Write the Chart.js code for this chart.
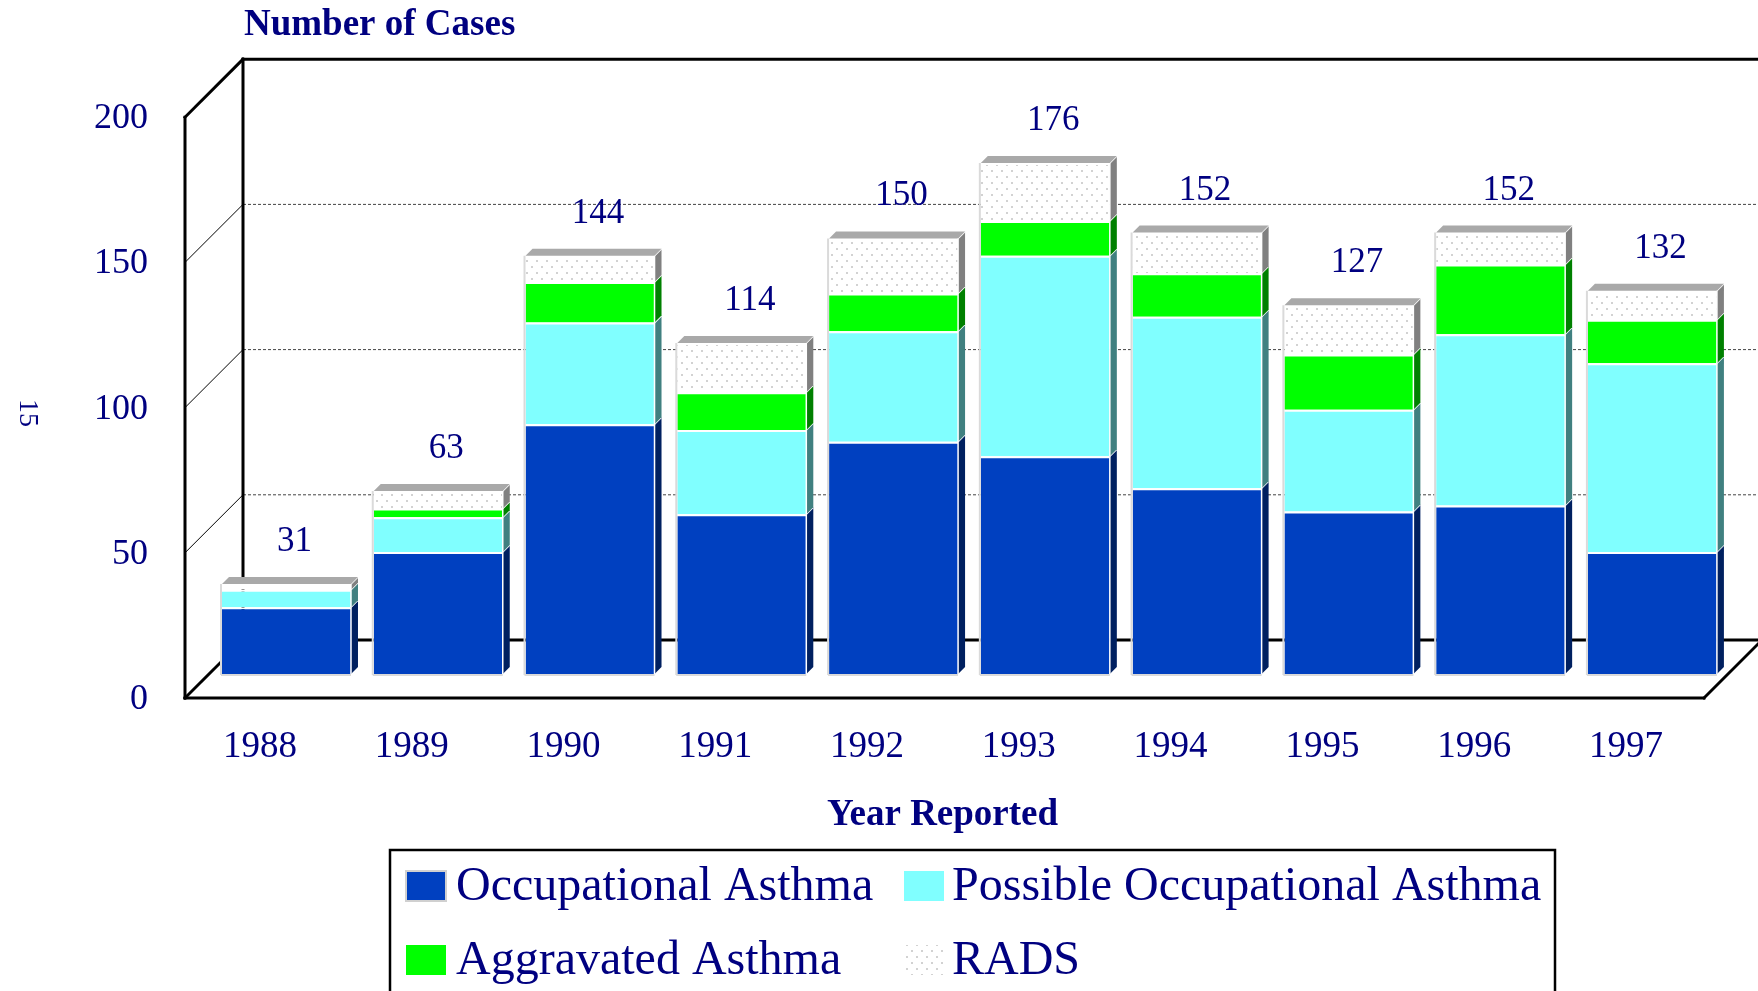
<!DOCTYPE html>
<html><head><meta charset="utf-8">
<script src="https://cdn.jsdelivr.net/npm/chart.js@4.4.0/dist/chart.umd.min.js"></script>
<style>html,body{margin:0;padding:0;background:#fff;overflow:hidden}canvas{display:block}</style>
</head><body>
<canvas id="c" width="1758" height="991"></canvas>
<script>
// ---- data ----
const years = ['1988','1989','1990','1991','1992','1993','1994','1995','1996','1997'];
const occupationalAsthma = [23, 42, 86, 55, 80, 75, 64, 56, 58, 42];
const possibleOccupationalAsthma = [6, 12, 35, 29, 38, 69, 59, 35, 59, 65];
const aggravatedAsthma = [0, 3, 14, 13, 13, 12, 15, 19, 24, 15];
const rads = [2, 6, 9, 17, 19, 20, 14, 17, 11, 10];
const yTickValues = [0, 50, 100, 150, 200];
const seriesNames = ['Occupational Asthma', 'Possible Occupational Asthma', 'Aggravated Asthma', 'RADS'];

const NAVY = '#000080';
const SERIF = "'Liberation Serif', 'DejaVu Serif', serif";
Chart.defaults.font.family = SERIF;

function dotPattern() {
  const c = document.createElement('canvas'); c.width = 10; c.height = 12;
  const x = c.getContext('2d');
  x.fillStyle = '#ffffff'; x.fillRect(0, 0, 10, 12);
  x.fillStyle = '#d2d2d2'; x.fillRect(1, 2, 2, 2); x.fillRect(6, 8, 2, 2);
  return x.createPattern(c, 'repeat');
}
const radsFill = dotPattern();
const sideColors = ['#002060', '#408080', '#008000', '#808080'];
const DEPTH = 58;       // oblique depth of the frame
const BAR_D = 7;        // depth of each 3-D bar

function geom(chart) {
  const ys = chart.scales.y, xs = chart.scales.x;
  const fx = xs.left - 25.6;
  return {
    fx, bx: fx + DEPTH, fr: xs.right - 24.3,
    yf: v => ys.getPixelForValue(v) + 24,
    yb: v => ys.getPixelForValue(v) - 34
  };
}
function line(ctx, x1, y1, x2, y2) { ctx.beginPath(); ctx.moveTo(x1, y1); ctx.lineTo(x2, y2); ctx.stroke(); }

const frame3d = {
  id: 'frame3d',
  beforeDatasetsDraw(chart) {
    const ctx = chart.ctx, g = geom(chart), W = chart.width + 20;
    ctx.save();
    ctx.strokeStyle = '#444'; ctx.lineWidth = 1; ctx.setLineDash([3, 2]);
    yTickValues.slice(1, -1).forEach(v => line(ctx, g.bx, g.yb(v), W, g.yb(v)));
    ctx.setLineDash([]);
    ctx.strokeStyle = '#000'; ctx.lineWidth = 1;
    yTickValues.slice(1, -1).forEach(v => line(ctx, g.fx, g.yf(v), g.bx, g.yb(v)));
    ctx.lineWidth = 3; ctx.lineCap = 'square';
    const top = yTickValues[yTickValues.length - 1], zero = yTickValues[0];
    line(ctx, g.bx, g.yb(top), W, g.yb(top));
    line(ctx, g.bx, g.yb(top), g.bx, g.yb(zero));
    line(ctx, g.bx, g.yb(zero), W, g.yb(zero));
    line(ctx, g.fx, g.yf(top), g.bx, g.yb(top));
    line(ctx, g.fx, g.yf(top), g.fx, g.yf(zero));
    line(ctx, g.fx, g.yf(zero), g.bx, g.yb(zero));
    line(ctx, g.fx, g.yf(zero), g.fr, g.yf(zero));
    line(ctx, g.fr, g.yf(zero), g.fr + DEPTH, g.yb(zero));
    ctx.restore();
  },
  afterDatasetsDraw(chart) {
    const ctx = chart.ctx, n = chart.data.labels.length, d = BAR_D;
    const metas = chart.data.datasets.map((ds, i) => chart.getDatasetMeta(i));
    ctx.save();
    for (let i = 0; i < n; i++) {
      let topIdx = -1;
      metas.forEach((m, k) => { if (chart.data.datasets[k].data[i] > 0) topIdx = k; });
      metas.forEach((m, k) => {
        const v = chart.data.datasets[k].data[i];
        if (!(v > 0)) return;
        const el = m.data[i];
        const xr = el.x + el.width / 2, xl = el.x - el.width / 2;
        ctx.fillStyle = sideColors[k];
        ctx.beginPath();
        ctx.moveTo(xr, el.y); ctx.lineTo(xr + d, el.y - d); ctx.lineTo(xr + d, el.base - d); ctx.lineTo(xr, el.base);
        ctx.closePath(); ctx.fill();
        ctx.strokeStyle = '#ffffff'; ctx.lineWidth = 1.5;
        line(ctx, xr, el.y, xr + d, el.y - d);
        if (k === topIdx) {
          ctx.fillStyle = '#a9a9a9';
          ctx.beginPath();
          ctx.moveTo(xl, el.y); ctx.lineTo(xl + d, el.y - d); ctx.lineTo(xr + d, el.y - d); ctx.lineTo(xr, el.y);
          ctx.closePath(); ctx.fill();
        }
      });
      const first = metas[0].data[i], last = metas[metas.length - 1].data[i];
      const xr = first.x + first.width / 2, xl = first.x - first.width / 2;
      ctx.strokeStyle = '#ffffff'; ctx.lineWidth = 1.5;
      line(ctx, xr, last.y, xr, first.base);
      ctx.strokeStyle = '#dadada'; ctx.lineWidth = 2;
      line(ctx, xl - 1, last.y, xl - 1, first.base + 1);
      line(ctx, xl - 1, first.base + 1, xr, first.base + 1);
      let total = 0; chart.data.datasets.forEach(ds => total += ds.data[i]);
      ctx.fillStyle = NAVY; ctx.font = '35px ' + SERIF;
      ctx.textAlign = 'center'; ctx.textBaseline = 'alphabetic';
      ctx.fillText(String(total), first.x + 8, last.y - 33);
    }
    ctx.restore();
  },
  afterDraw(chart) {
    const ctx = chart.ctx, g = geom(chart);
    ctx.save();
    ctx.fillStyle = NAVY;
    ctx.font = 'bold 37px ' + SERIF; ctx.textAlign = 'left'; ctx.textBaseline = 'alphabetic';
    ctx.fillText('Number of Cases', g.bx + 1, 35);
    ctx.textAlign = 'center';
    ctx.fillText('Year Reported', (g.fx + g.fr) / 2 - 2, 825);
    ctx.save(); ctx.translate(27, 413); ctx.rotate(Math.PI / 2);
    ctx.font = '28px ' + SERIF; ctx.textBaseline = 'middle'; ctx.fillText('15', 0, 0);
    ctx.restore();
    ctx.strokeStyle = '#000'; ctx.lineWidth = 2.5;
    ctx.strokeRect(390, 850, 1165, 200);
    const pos = [[406, 871, 456], [904, 871, 952], [406, 945, 456], [904, 945, 952]];
    ctx.font = '48px ' + SERIF; ctx.textAlign = 'left'; ctx.textBaseline = 'alphabetic';
    chart.data.datasets.forEach((ds, k) => {
      const [sx, sy, tx] = pos[k];
      ctx.fillStyle = ds.backgroundColor;
      ctx.fillRect(sx, sy, 40, 30);
      if (k === 0) { ctx.strokeStyle = '#d0d0d0'; ctx.lineWidth = 2; ctx.strokeRect(sx, sy, 40, 30); }
      ctx.fillStyle = NAVY;
      ctx.fillText(ds.label, tx, sy + 29);
    });
    ctx.restore();
  }
};

const barCommon = { borderColor: '#ffffff', borderWidth: { top: 2, left: 0, right: 0, bottom: 0 }, borderSkipped: false,
  barPercentage: 0.85, categoryPercentage: 1.0 };

new Chart(document.getElementById('c'), {
  type: 'bar',
  data: {
    labels: years,
    datasets: [
      Object.assign({ label: seriesNames[0], data: occupationalAsthma, backgroundColor: '#0040c0' }, barCommon),
      Object.assign({ label: seriesNames[1], data: possibleOccupationalAsthma, backgroundColor: '#80ffff' }, barCommon),
      Object.assign({ label: seriesNames[2], data: aggravatedAsthma, backgroundColor: '#00ff00' }, barCommon),
      Object.assign({ label: seriesNames[3], data: rads, backgroundColor: radsFill }, barCommon)
    ]
  },
  options: {
    responsive: false, animation: false, devicePixelRatio: 1,
    layout: { padding: { top: 93.2, left: 0, right: 29.7, bottom: 0 } },
    plugins: { legend: { display: false }, tooltip: { enabled: false }, title: { display: false } },
    scales: {
      x: {
        stacked: true,
        grid: { display: false, drawTicks: false }, border: { display: false },
        ticks: { color: NAVY, font: { size: 37, family: SERIF }, padding: 51, labelOffset: -26.5,
                 maxRotation: 0, autoSkip: false },
        afterFit: s => { s.height = 317; }
      },
      y: {
        stacked: true, min: 0, max: 200,
        grid: { display: false, drawTicks: false }, border: { display: false },
        ticks: { color: NAVY, font: { size: 36, family: SERIF }, padding: 62.6, labelOffset: 25.5 },
        afterBuildTicks: s => { s.ticks = yTickValues.map(v => ({ value: v })); },
        afterFit: s => { s.width = 210.6; }
      }
    }
  },
  plugins: [frame3d]
});
</script>
</body></html>
